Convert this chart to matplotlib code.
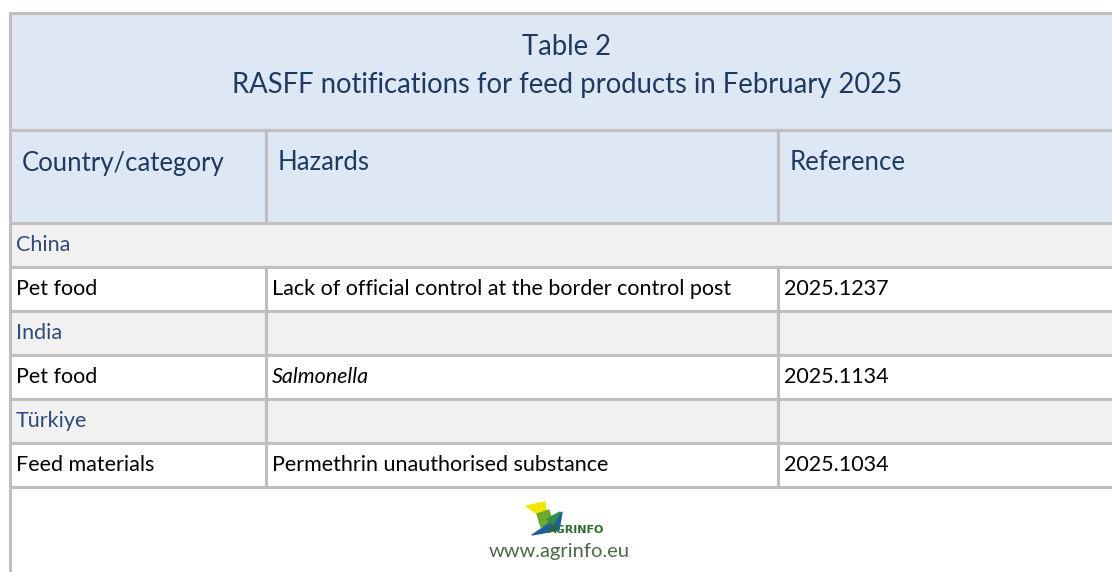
import matplotlib.pyplot as plt
from matplotlib.patches import Rectangle, Polygon

# table content
title_lines = ["Table 2", "RASFF notifications for feed products in February 2025"]
headers = ["Country/category", "Hazards", "Reference"]
countries = ["China", "India", "Türkiye"]
categories = ["Pet food", "Pet food", "Feed materials"]
hazards = ["Lack of official control at the border control post", "Salmonella",
           "Permethrin unauthorised substance"]
hazard_italic = [False, True, False]
references = ["2025.1237", "2025.1134", "2025.1034"]
footer_url = "www.agrinfo.eu"

W, H = 1112, 572
LEFT, RIGHT = 10, 1124
COL_X = [LEFT, 266, 778, RIGHT]
TITLE_TOP, HEAD_TOP, BODY_TOP, ROW_H = 13, 130, 223, 44

HEAD_BG = "#dde8f4"
GREY_BG = "#f1f1f1"
LINE = "#bfbfbf"
NAVY = "#1f3a60"
COUNTRY = "#2e4b7c"
FONT = "Lato"

fig = plt.figure(figsize=(W / 100, H / 100), dpi=100)
ax = fig.add_axes([0, 0, 1, 1])
ax.set_xlim(0, W)
ax.set_ylim(H, 0)
ax.axis("off")


def cell(x0, x1, y0, y1, color):
    ax.add_patch(Rectangle((x0, y0), x1 - x0, y1 - y0, facecolor=color,
                           edgecolor=LINE, linewidth=2.2))


# title block
cell(LEFT, RIGHT, TITLE_TOP, HEAD_TOP, HEAD_BG)
ax.text((LEFT + RIGHT) / 2, 47, title_lines[0], ha="center", va="center",
        fontsize=19.8, color=NAVY, family=FONT)
ax.text((LEFT + RIGHT) / 2, 85, title_lines[1], ha="center", va="center",
        fontsize=19.8, color=NAVY, family=FONT)

# column headers
for i, h in enumerate(headers):
    cell(COL_X[i], COL_X[i + 1], HEAD_TOP, BODY_TOP, HEAD_BG)
    ax.text(COL_X[i] + 12, 163, h, ha="left", va="center", fontsize=18.5,
            color=NAVY, family=FONT)

# body rows: country row followed by the product row
y = BODY_TOP
for k, country in enumerate(countries):
    if k == 0:
        cell(LEFT, RIGHT, y, y + ROW_H, GREY_BG)
    else:
        for i in range(3):
            cell(COL_X[i], COL_X[i + 1], y, y + ROW_H, GREY_BG)
    ax.text(LEFT + 6, y + ROW_H / 2, country, ha="left", va="center",
            fontsize=15.5, color=COUNTRY, family=FONT)
    y += ROW_H
    vals = [categories[k], hazards[k], references[k]]
    for i, v in enumerate(vals):
        cell(COL_X[i], COL_X[i + 1], y, y + ROW_H, "white")
        style = "italic" if (i == 1 and hazard_italic[k]) else "normal"
        ax.text(COL_X[i] + 6, y + ROW_H / 2, v, ha="left", va="center",
                fontsize=15.5, color="black", family=FONT, style=style)
    y += ROW_H

# footer with logo
cell(LEFT, RIGHT, y, H + 20, "white")
ax.add_patch(Polygon([[526, 506], [545, 502], [547, 521]], color="#f2e600"))
ax.add_patch(Polygon([[537, 514], [549, 510], [553, 525], [541, 527]], color="#6aaa2c"))
ax.add_patch(Polygon([[532, 535], [547, 525], [562, 512], [559, 530]], color="#1f5fa0"))
ax.add_patch(Polygon([[547, 519], [560, 512], [553, 525]], color="#2f8f4a"))
ax.text(548, 530, "AGRINFO", ha="left", va="center", fontsize=8,
        fontweight="bold", color="#2e6b2e", family="DejaVu Sans Condensed")
ax.text(559, 551, footer_url, ha="center", va="center", fontsize=14.5,
        color="#4a684a", family=FONT)

fig.savefig("out.png", dpi=100)
